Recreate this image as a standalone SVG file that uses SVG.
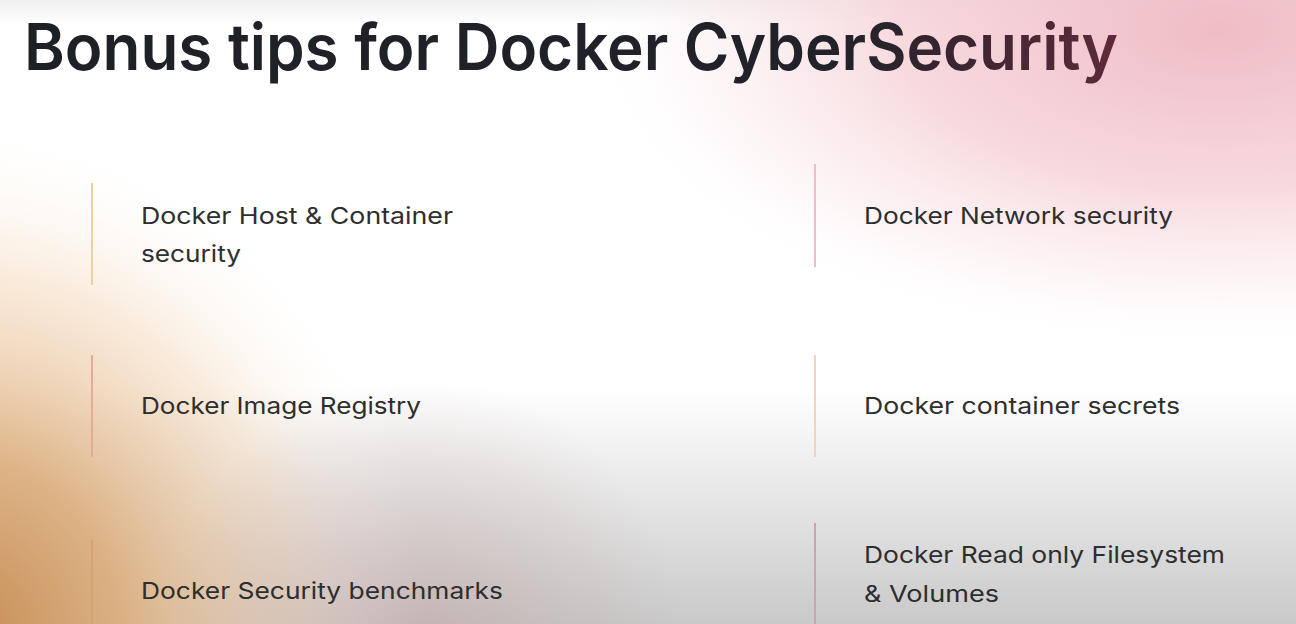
<svg xmlns="http://www.w3.org/2000/svg" width="1296" height="624" viewBox="0 0 1296 624">
<defs>
<linearGradient id="bgV" x1="0" y1="0" x2="0" y2="1">
<stop offset="0" stop-color="#f0f0f0"/>
<stop offset="0.04" stop-color="#ffffff"/>
<stop offset="0.62" stop-color="#ffffff"/>
<stop offset="0.8" stop-color="#e6e6e6"/>
<stop offset="1" stop-color="#c9c9c9"/>
</linearGradient>
<radialGradient id="pink" gradientUnits="userSpaceOnUse" cx="1220" cy="30" r="640" gradientTransform="translate(1220 30) scale(1 0.5) translate(-1220 -30)">
<stop offset="0" stop-color="#efbcc5" stop-opacity="1"/>
<stop offset="0.5" stop-color="#f5d0d6" stop-opacity="0.8"/>
<stop offset="0.8" stop-color="#fae6e9" stop-opacity="0.4"/>
<stop offset="1" stop-color="#ffffff" stop-opacity="0"/>
</radialGradient>
<radialGradient id="tan" gradientUnits="userSpaceOnUse" cx="-40" cy="640" r="520" gradientTransform="translate(-40 640) scale(0.9 1) translate(40 -640)">
<stop offset="0" stop-color="#c58a52" stop-opacity="1"/>
<stop offset="0.35" stop-color="#dcae7c" stop-opacity="0.9"/>
<stop offset="0.7" stop-color="#f3d6b6" stop-opacity="0.5"/>
<stop offset="1" stop-color="#ffffff" stop-opacity="0"/>
</radialGradient>
<radialGradient id="mauve" gradientUnits="userSpaceOnUse" cx="420" cy="640" r="260">
<stop offset="0" stop-color="#c0a0a0" stop-opacity="0.5"/>
<stop offset="1" stop-color="#c0a0a0" stop-opacity="0"/>
</radialGradient>
<linearGradient id="titleFill" gradientUnits="userSpaceOnUse" x1="24" y1="0" x2="1118" y2="0">
<stop offset="0" stop-color="#1d2126"/>
<stop offset="0.75" stop-color="#22222a"/>
<stop offset="1" stop-color="#5e2a3a"/>
</linearGradient>
<style>
.item{font-family:"Inter","Open Sans","Liberation Sans",sans-serif;font-size:23px;fill:#2e2e2e;}
.title{font-family:"Inter","Open Sans","Liberation Sans",sans-serif;font-size:64px;font-weight:600;}
.bar{stroke-width:2;fill:none;}
</style>
</defs>
<rect width="1296" height="624" fill="url(#bgV)"/>
<rect width="1296" height="624" fill="url(#tan)"/>
<rect width="1296" height="624" fill="url(#mauve)"/>
<rect width="1296" height="624" fill="url(#pink)"/>
<text class="title" x="24" y="70" fill="url(#titleFill)" textLength="1094" lengthAdjust="spacingAndGlyphs">Bonus tips for Docker CyberSecurity</text>
<g id="connectors"></g>
<g id="tip-host">
<line class="bar" x1="92" y1="183" x2="92" y2="285" stroke="#f0cfa2"/>
<text class="item" x="141" y="224" textLength="312" lengthAdjust="spacingAndGlyphs">Docker Host &amp; Container</text>
<text class="item" x="141" y="262" textLength="100" lengthAdjust="spacingAndGlyphs">security</text>
</g>
<g id="tip-registry">
<line class="bar" x1="92" y1="355" x2="92" y2="457" stroke="#e8aa98"/>
<text class="item" x="141" y="414" textLength="280" lengthAdjust="spacingAndGlyphs">Docker Image Registry</text>
</g>
<g id="tip-benchmarks">
<line class="bar" x1="92" y1="540" x2="92" y2="624" stroke="#d9a07c"/>
<text class="item" x="141" y="599" textLength="362" lengthAdjust="spacingAndGlyphs">Docker Security benchmarks</text>
</g>
<g id="tip-network">
<line class="bar" x1="815" y1="164" x2="815" y2="267" stroke="#f0bccb"/>
<text class="item" x="864" y="224" textLength="309" lengthAdjust="spacingAndGlyphs">Docker Network security</text>
</g>
<g id="tip-secrets">
<line class="bar" x1="815" y1="355" x2="815" y2="457" stroke="#f2d4bc"/>
<text class="item" x="864" y="414" textLength="316" lengthAdjust="spacingAndGlyphs">Docker container secrets</text>
</g>
<g id="tip-readonly">
<line class="bar" x1="815" y1="523" x2="815" y2="624" stroke="#caa4ae"/>
<text class="item" x="864" y="563" textLength="361" lengthAdjust="spacingAndGlyphs">Docker Read only Filesystem</text>
<text class="item" x="864" y="602" textLength="135" lengthAdjust="spacingAndGlyphs">&amp; Volumes</text>
</g>
</svg>
